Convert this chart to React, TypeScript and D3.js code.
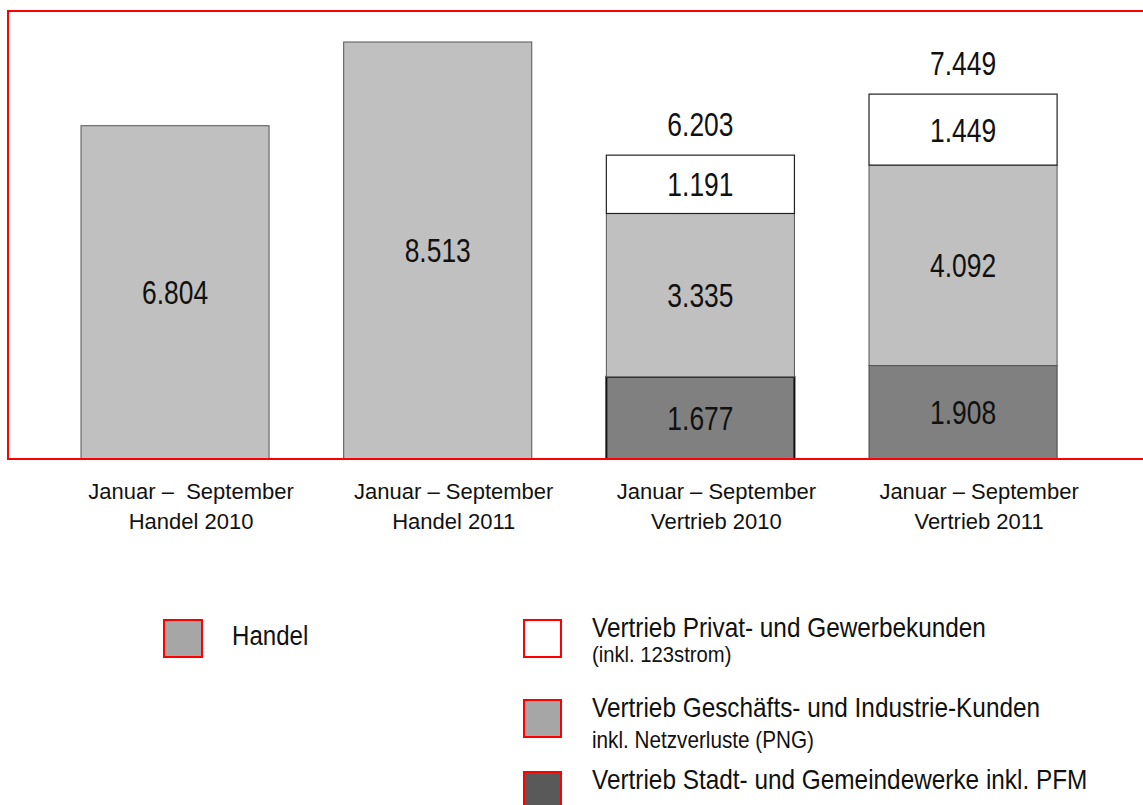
import React from "react";
import * as d3 from "d3";

const categories = ["H2010", "H2011", "V2010", "V2011"];
const catLine1 = ["Januar –  September", "Januar – September", "Januar – September", "Januar – September"];
const catLine2 = ["Handel 2010", "Handel 2011", "Vertrieb 2010", "Vertrieb 2011"];

const handel = [6804, 8513, 0, 0];
const stadtwerke = [0, 0, 1677, 1908];
const geschaeft = [0, 0, 3335, 4092];
const privat = [0, 0, 1191, 1449];
const totals = [null, null, 6203, 7449];

const legendLeft = [{ label: "Handel", sub: "", color: "#a6a6a6" }];
const legendRight = [
  { label: "Vertrieb Privat- und Gewerbekunden", sub: "(inkl. 123strom)", color: "#ffffff" },
  { label: "Vertrieb Geschäfts- und Industrie-Kunden", sub: "inkl. Netzverluste (PNG)", color: "#a6a6a6" },
  { label: "Vertrieb Stadt- und Gemeindewerke inkl. PFM", sub: "", color: "#595959" },
];

const fmt = (v: number) => d3.format(",")(v).replace(/,/g, ".");
const FONT = "'Liberation Sans', Arial, sans-serif";

function SText({ x, y, size, sx = 1, anchor = "start", children }: any) {
  return (
    <text
      transform={`translate(${x},${y}) scale(${sx},1)`}
      fontSize={size}
      fontFamily={FONT}
      textAnchor={anchor}
      fill="#111"
    >
      {children}
    </text>
  );
}

export default function App() {
  const W = 1143, H = 805;
  const x = d3.scaleBand<string>().domain(categories).range([41.6, 1096.5]).paddingInner(0.284).paddingOuter(0.15);
  const y = d3.scaleLinear().domain([0, 9000]).range([459, 18.14]);
  const bw = x.bandwidth();

  const seriesDefs = [
    { key: "handel", vals: handel, fill: "#c0c0c0", stroke: "#555", sw: 1 },
    { key: "stadt", vals: stadtwerke, fill: "#808080", stroke: "#444", sw: 1 },
    { key: "gesch", vals: geschaeft, fill: "#c0c0c0", stroke: "#555", sw: 1 },
    { key: "privat", vals: privat, fill: "#ffffff", stroke: "#222", sw: 1.2 },
  ];

  const segs: any[] = [];
  categories.forEach((c, i) => {
    let base = 0;
    seriesDefs.forEach((s) => {
      const v = s.vals[i];
      if (v > 0) {
        segs.push({ c, i, v, y0: base, y1: base + v, s });
        base += v;
      }
    });
  });

  return (
    <svg width={W} height={H} style={{ position: "absolute", left: 0, top: 0, display: "block", background: "#fff" }}>
      {segs.map((d, k) => (
        <rect
          key={k}
          x={x(d.c)!}
          y={y(d.y1)}
          width={bw}
          height={y(d.y0) - y(d.y1)}
          fill={d.s.fill}
          stroke={d.i === 2 && d.s.key === "stadt" ? "#111" : d.s.stroke}
          strokeWidth={d.i === 2 && d.s.key === "stadt" ? 2 : d.s.sw}
        />
      ))}
      <path d="M 1150 11 H 8 V 459 H 1150" fill="none" stroke="#ff0000" strokeWidth={2} />
      {segs.map((d, k) => (
        <SText key={"l" + k} x={x(d.c)! + bw / 2} y={(y(d.y0) + y(d.y1)) / 2 + 12} size={33} sx={0.8} anchor="middle">
          {fmt(d.v)}
        </SText>
      ))}
      {categories.map((c, i) =>
        totals[i] != null ? (
          <SText key={"t" + i} x={x(c)! + bw / 2} y={y(totals[i] as number) - 19} size={33} sx={0.8} anchor="middle">
            {fmt(totals[i] as number)}
          </SText>
        ) : null
      )}
      {categories.map((c, i) => (
        <g key={"c" + i}>
          <text x={x(c)! + bw / 2 + 16} y={499} fontSize={22} fontFamily={FONT} textAnchor="middle" fill="#111" style={{ whiteSpace: "pre" }}>
            {catLine1[i]}
          </text>
          <text x={x(c)! + bw / 2 + 16} y={529} fontSize={22} fontFamily={FONT} textAnchor="middle" fill="#111">
            {catLine2[i]}
          </text>
        </g>
      ))}
      {legendLeft.map((l, i) => (
        <g key={"ll" + i}>
          <rect x={164} y={620 + i * 78} width={38} height={37} fill={l.color} stroke="#ff0000" strokeWidth={2} />
          <SText x={232} y={645} size={28} sx={0.86}>{l.label}</SText>
        </g>
      ))}
      {legendRight.map((l, i) => {
        const ys = [620, 700, 772][i];
        return (
          <g key={"lr" + i}>
            <rect x={524} y={ys} width={37} height={37} fill={l.color} stroke="#ff0000" strokeWidth={2} />
            <SText x={592} y={ys + 17} size={28} sx={0.87}>{l.label}</SText>
            {l.sub ? (
              <SText x={592} y={ys + (i === 0 ? 42 : 48)} size={i === 0 ? 22 : 23} sx={i === 0 ? 0.92 : 0.9}>
                {l.sub}
              </SText>
            ) : null}
          </g>
        );
      })}
    </svg>
  );
}
